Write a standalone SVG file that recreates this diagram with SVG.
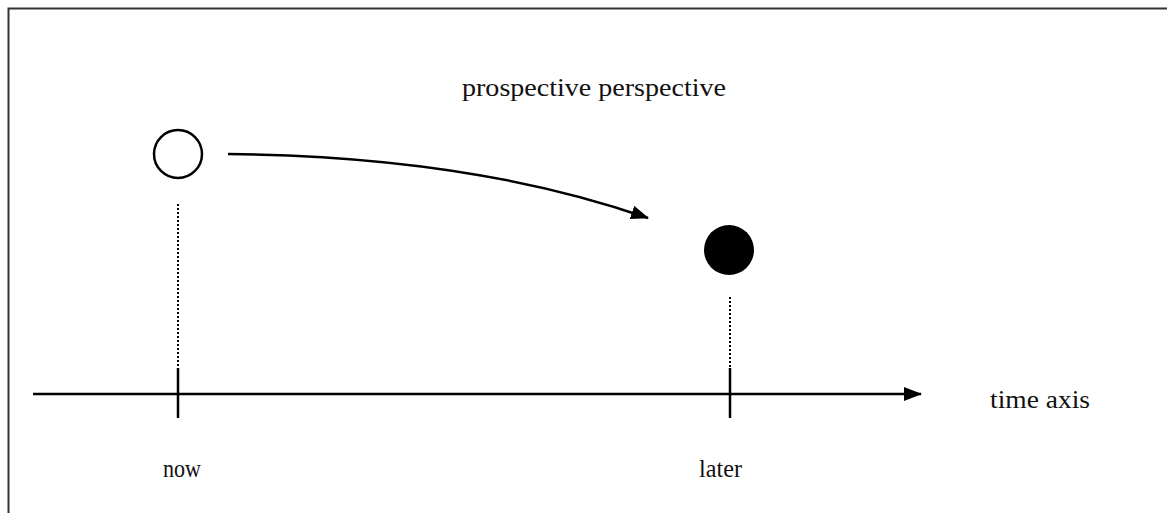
<svg xmlns="http://www.w3.org/2000/svg" width="1167" height="513" viewBox="0 0 1167 513">
<style>
.t{font-family:"Liberation Serif",serif;font-size:26px;fill:#111}
.ln{stroke:#000;stroke-width:2.5;fill:none}
.dot{stroke:#000;stroke-width:2;stroke-dasharray:2 2;fill:none}
</style>
<defs>
<marker id="ah2" markerWidth="18" markerHeight="14" refX="17" refY="7" orient="auto" markerUnits="userSpaceOnUse" viewBox="0 0 18 14">
<path d="M0,0 L18,7 L0,14 z" fill="#000"/>
</marker>
</defs>
<rect width="1167" height="513" fill="#fff"/>
<path d="M8.5,513 V8.5 H1167" stroke="#333" stroke-width="2" fill="none"/>
<text class="t" x="462" y="96" textLength="264" lengthAdjust="spacingAndGlyphs">prospective perspective</text>
<g id="now-node"><circle cx="178" cy="154" r="24" fill="#fff" stroke="#000" stroke-width="2.5"/></g>
<g id="later-node"><circle cx="729" cy="250" r="25" fill="#000"/></g>
<g id="connectors">
<path class="ln" d="M228,154 Q470,156 648,218" marker-end="url(#ah2)"/>
<line class="dot" x1="178" y1="204" x2="178" y2="368"/>
<line class="dot" x1="730" y1="297" x2="730" y2="368"/>
<line class="ln" x1="178" y1="368" x2="178" y2="418"/>
<line class="ln" x1="730" y1="368" x2="730" y2="418"/>
<line class="ln" x1="33" y1="394" x2="921" y2="394" marker-end="url(#ah2)"/>
</g>
<text class="t" x="990" y="408" textLength="100" lengthAdjust="spacingAndGlyphs">time axis</text>
<text class="t" x="163" y="477" textLength="38" lengthAdjust="spacingAndGlyphs">now</text>
<text class="t" x="699" y="477" textLength="43" lengthAdjust="spacingAndGlyphs">later</text>
</svg>
